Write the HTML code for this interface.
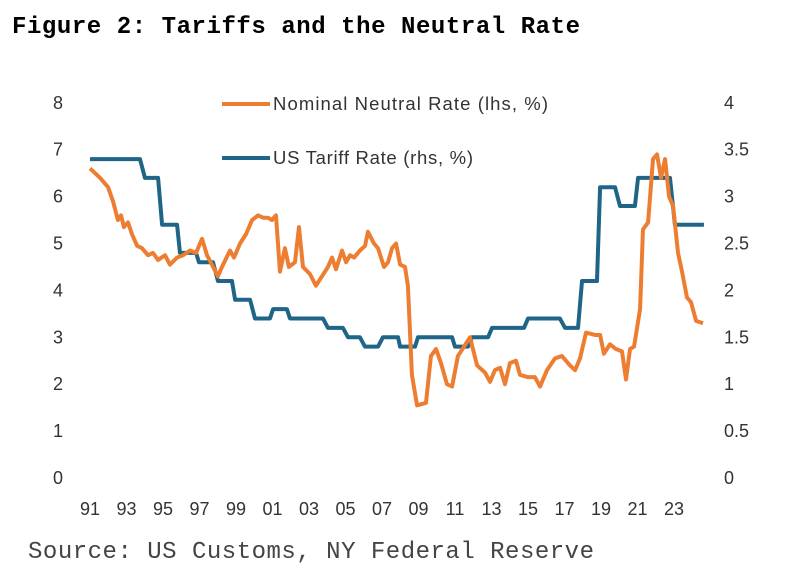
<!DOCTYPE html>
<html><head><meta charset="utf-8"><style>
body{margin:0;background:#fff;width:788px;height:580px;overflow:hidden}
svg text{font-family:"Liberation Sans",sans-serif}
</style></head><body>
<svg width="788" height="580">
<text x="12" y="33" textLength="568" style="font-family:'Liberation Mono',monospace;font-weight:bold;font-size:24px" fill="#000">Figure 2: Tariffs and the Neutral Rate</text>
<text x="28" y="558" textLength="566" style="font-family:'Liberation Mono',monospace;font-size:24px" fill="#444">Source: US Customs, NY Federal Reserve</text>
<g id="axes"></g>
<g id="plot"></g>
<g>
<line x1="222" y1="104" x2="270" y2="104" stroke="#ED7D31" stroke-width="4"/>
<text x="273" y="110" font-size="18.5" textLength="275" fill="#333">Nominal Neutral Rate (lhs, %)</text>
<line x1="222" y1="158" x2="270" y2="158" stroke="#1F6587" stroke-width="4"/>
<text x="273" y="164" font-size="18.5" textLength="200" fill="#333">US Tariff Rate (rhs, %)</text>
</g>
</svg>
<script>
const leftTicks=[0,1,2,3,4,5,6,7,8];
const rightTicks=["0","0.5","1","1.5","2","2.5","3","3.5","4"];
const xTickYears=[1991,1993,1995,1997,1999,2001,2003,2005,2007,2009,2011,2013,2015,2017,2019,2021,2023];
const neutralDates=[1991,1991.55,1991.99,1992.26,1992.53,1992.70,1992.86,1993.08,1993.30,1993.58,1993.85,1994.18,1994.45,1994.73,1995.11,1995.38,1995.77,1996.10,1996.48,1996.81,1997.14,1997.41,1997.68,1998.01,1998.23,1998.67,1998.89,1999.22,1999.55,1999.88,2000.21,2000.48,2000.75,2000.97,2001.19,2001.41,2001.68,2001.90,2002.23,2002.45,2002.67,2003.05,2003.38,2003.71,2004.04,2004.26,2004.48,2004.81,2005.03,2005.25,2005.47,2005.79,2006.07,2006.23,2006.56,2006.78,2007.11,2007.33,2007.55,2007.77,2007.99,2008.26,2008.42,2008.64,2008.92,2009.41,2009.68,2009.96,2010.23,2010.56,2010.84,2011.16,2011.49,2011.82,2012.21,2012.64,2012.92,2013.19,2013.47,2013.74,2014.01,2014.34,2014.56,2015.0,2015.38,2015.66,2016.04,2016.48,2016.86,2017.30,2017.58,2017.85,2018.18,2018.67,2018.95,2019.16,2019.49,2019.82,2020.15,2020.37,2020.59,2020.81,2021.14,2021.30,2021.58,2021.85,2022.07,2022.29,2022.51,2022.73,2022.95,2023.22,2023.44,2023.71,2023.93,2024.21,2024.59];
const neutralValues=[6.6,6.4,6.2,5.9,5.5,5.6,5.35,5.45,5.2,4.95,4.9,4.75,4.8,4.65,4.75,4.55,4.7,4.75,4.85,4.8,5.1,4.75,4.55,4.3,4.5,4.85,4.7,5.0,5.2,5.5,5.6,5.55,5.55,5.5,5.6,4.4,4.9,4.5,4.6,5.35,4.5,4.35,4.1,4.3,4.5,4.7,4.45,4.85,4.6,4.75,4.7,4.85,4.95,5.25,5.0,4.9,4.5,4.6,4.9,5.0,4.55,4.5,4.1,2.2,1.55,1.6,2.6,2.75,2.45,2.0,1.95,2.6,2.8,3.0,2.4,2.25,2.05,2.3,2.35,2.0,2.45,2.5,2.2,2.15,2.15,1.95,2.3,2.55,2.6,2.4,2.3,2.55,3.1,3.05,3.05,2.65,2.85,2.75,2.7,2.1,2.75,2.8,3.6,5.3,5.45,6.8,6.9,6.4,6.8,6.0,5.8,4.8,4.4,3.85,3.75,3.35,3.3];
const tariffStart=[1991.0,1994.01,1994.95,1995.93,1996.97,1998.01,1998.95,2000.04,2001.03,2001.96,2004.04,2005.14,2006.07,2007.05,2007.99,2008.97,2011.0,2011.93,2013.03,2015.0,2017.03,2017.96,2018.95,2020.04,2021.03,2023.05];
const tariffEnd=[1993.74,1994.73,1995.77,1996.81,1997.74,1998.78,1999.77,2000.86,2001.79,2003.77,2004.86,2005.79,2006.78,2007.88,2008.81,2010.84,2011.71,2012.81,2014.78,2016.75,2017.74,2018.78,2019.77,2020.86,2022.78,2024.64];
const tariffValues=[3.4,3.2,2.7,2.4,2.3,2.1,1.9,1.7,1.8,1.7,1.6,1.5,1.4,1.5,1.4,1.5,1.4,1.5,1.6,1.7,1.6,2.1,3.1,2.9,3.2,2.7];

const NS="http://www.w3.org/2000/svg";
const xS=y=>90+(y-1991)*18.25;
const yL=v=>478-v*46.9;
const yR=v=>478-v*93.8;
const axes=document.getElementById('axes'),plot=document.getElementById('plot');
function mk(tag,attrs,parent){const e=document.createElementNS(NS,tag);for(const k in attrs)e.setAttribute(k,attrs[k]);parent.appendChild(e);return e;}
leftTicks.forEach((v,i)=>{
  const t=mk('text',{x:63,y:yL(v)+6,'font-size':18,fill:'#333','text-anchor':'end'},axes);t.textContent=v;
  
  
  const r=mk('text',{x:724,y:yL(v)+6,'font-size':18,fill:'#333'},axes);r.textContent=rightTicks[i];
  
  
});
xTickYears.forEach(y=>{
  const t=mk('text',{x:xS(y),y:515,'font-size':18,fill:'#333','text-anchor':'middle'},axes);t.textContent=String(y%100).padStart(2,'0');
  
  
});
let tp=[];
tariffValues.forEach((v,i)=>{tp.push(xS(tariffStart[i])+','+yR(v));tp.push(xS(tariffEnd[i])+','+yR(v));});
const tl=mk('polyline',{points:tp.join(' '),fill:'none',stroke:'#1F6587','stroke-width':4,'stroke-linejoin':'round'},plot);


const np=neutralValues.map((v,i)=>xS(neutralDates[i])+','+yL(v)).join(' ');
const nl=mk('polyline',{points:np,fill:'none',stroke:'#ED7D31','stroke-width':4,'stroke-linejoin':'round'},plot);


</script>
</body></html>
